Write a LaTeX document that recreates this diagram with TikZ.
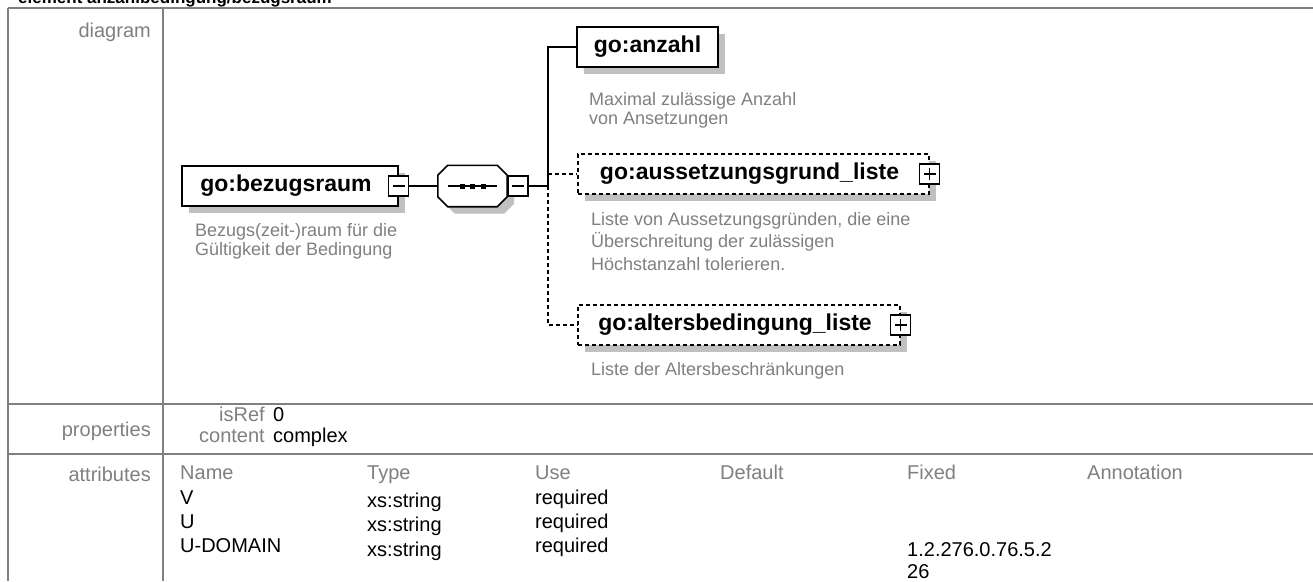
\documentclass[tikz,border=0pt]{standalone}
\usepackage{fontspec}
\setmainfont{Liberation Sans}
\newfontfamily\descfont{Liberation Sans}
\usetikzlibrary{calc,shadows}
\definecolor{linegray}{HTML}{808080}
\definecolor{labelgray}{HTML}{808080}
\definecolor{shadowgray}{HTML}{C0C0C0}
\definecolor{descgray}{HTML}{808080}
\begin{document}
\begin{tikzpicture}[x=1pt,y=-1pt,
  tblline/.style={draw=linegray, line width=2pt},
  lbl/.style={font=\fontsize{20}{24}\selectfont, text=labelgray, inner sep=0pt},
  val/.style={font=\fontsize{20}{24}\selectfont, text=black, inner sep=0pt},
  elbox/.style={draw=black, fill=white, line width=1.6pt, minimum height=40pt, inner sep=0pt,
    font=\fontsize{23}{27}\selectfont\bfseries,
    general shadow={fill=shadowgray, shadow xshift=7pt, shadow yshift=-7pt}},
  optbox/.style={elbox, dash pattern=on 4pt off 3pt},
  ctlbox/.style={draw=black, fill=white, line width=1.3pt, minimum size=20pt, inner sep=0pt},
  minusbox/.style={ctlbox, path picture={\draw[line width=1.3pt] ([xshift=4pt]path picture bounding box.west) -- ([xshift=-4pt]path picture bounding box.east);}},
  plusbox/.style={ctlbox, path picture={
      \draw[line width=1.3pt] ([xshift=4pt]path picture bounding box.west) -- ([xshift=-4pt]path picture bounding box.east);
      \draw[line width=1.3pt] ([yshift=-4pt]path picture bounding box.north) -- ([yshift=4pt]path picture bounding box.south);}},
  conn/.style={draw=black, line width=1.3pt},
  dconn/.style={conn, dash pattern=on 4pt off 3pt},
  desc/.style={font=\descfont\fontsize{18}{22}\selectfont, text=descgray, inner sep=0pt, anchor=base west},
]
\useasboundingbox (0,0) rectangle (1313,581);
\fill[white] (0,0) rectangle (1313,581);

% heading, cut off at the top edge as in the reference
\node[anchor=base west, inner sep=0pt, font=\fontsize{17}{20}\selectfont\bfseries] (title) at (18,3.5) {element anzahlbedingung/bezugsraum};

% table grid
\draw[tblline] (8,8) -- (1313,8);
\draw[tblline] (8,8) -- (8,581);
\draw[tblline] (163,8) -- (163,581);
\draw[tblline] (8,404) -- (1313,404);
\draw[tblline] (8,454) -- (1313,454);

% row labels
\node[lbl, anchor=base east] (lblDiagram) at (151,37) {diagram};
\node[lbl, anchor=base east] (lblProps) at (151,436) {properties};
\node[lbl, anchor=base east] (lblAttrs) at (151,481) {attributes};

% properties
\node[lbl, anchor=base east] (kIsRef) at (265,421) {isRef};
\node[val, anchor=base west] (vIsRef) at (273,421) {0};
\node[lbl, anchor=base east] (kContent) at (265,442) {content};
\node[val, anchor=base west] (vContent) at (273,442) {complex};

% attributes header
\node[lbl, anchor=base west] (hName) at (180,479) {Name};
\node[lbl, anchor=base west] (hType) at (367,479) {Type};
\node[lbl, anchor=base west] (hUse) at (535,479) {Use};
\node[lbl, anchor=base west] (hDefault) at (720,479) {Default};
\node[lbl, anchor=base west] (hFixed) at (907,479) {Fixed};
\node[lbl, anchor=base west] (hAnno) at (1087,479) {Annotation};
% attribute rows
\node[val, anchor=base west] (aV) at (180,504) {V};
\node[val, anchor=base west] (aVt) at (367,507) {xs:string};
\node[val, anchor=base west] (aVu) at (535,504) {required};
\node[val, anchor=base west] (aU) at (180,528) {U};
\node[val, anchor=base west] (aUt) at (367,531) {xs:string};
\node[val, anchor=base west] (aUu) at (535,528) {required};
\node[val, anchor=base west] (aD) at (180,552) {U-DOMAIN};
\node[val, anchor=base west] (aDt) at (367,556) {xs:string};
\node[val, anchor=base west] (aDu) at (535,552) {required};
\node[val, anchor=base west] (aDf1) at (907,556) {1.2.276.0.76.5.2};
\node[val, anchor=base west] (aDf2) at (907,578) {26};

% diagram: element boxes
\node[elbox, minimum width=216pt] (bez) at (290,186) {go:bezugsraum\hspace*{8pt}};
\node[minusbox] (bezMinus) at (bez.east) {};

\node[minimum width=69pt, minimum height=41pt, inner sep=0pt] (seq) at (472.5,186) {};
\path[draw=black, fill=white, line width=1.6pt, general shadow={fill=shadowgray, shadow xshift=7pt, shadow yshift=-7pt}]
  ($(seq.north west)+(10,0)$) -- ($(seq.north east)+(-10,0)$) -- ($(seq.north east)+(0,10)$)
  -- ($(seq.south east)+(0,-10)$) -- ($(seq.south east)+(-10,0)$) -- ($(seq.south west)+(10,0)$)
  -- ($(seq.south west)+(0,-10)$) -- ($(seq.north west)+(0,10)$) -- cycle;
\draw[conn] ($(seq.west)+(10,0)$) -- ($(seq.east)+(-10,0)$);
\fill[black] ($(seq.center)+(-13,-2.5)$) rectangle ($(seq.center)+(-8,2.5)$);
\fill[black] ($(seq.center)+(-2.5,-2.5)$) rectangle ($(seq.center)+(2.5,2.5)$);
\fill[black] ($(seq.center)+(8,-2.5)$) rectangle ($(seq.center)+(13,2.5)$);
\node[minusbox, anchor=west] (seqMinus) at (seq.east) {};

\coordinate (junc) at (548,186);

\node[elbox, minimum width=141pt] (anzahl) at (647.5,47) {go:anzahl};
\node[optbox, minimum width=351pt] (aus) at (753.5,174) {go:aussetzungsgrund\_liste\hspace*{8pt}};
\node[plusbox] (ausPlus) at (aus.east) {};
\node[optbox, minimum width=322pt] (alters) at (739,325) {go:altersbedingung\_liste\hspace*{8pt}};
\node[plusbox] (altersPlus) at (alters.east) {};

% connectors
\draw[conn] (bezMinus.east) -- (seq.west);
\draw[conn] (seqMinus.east) -- (junc);
\draw[conn] (junc) |- (anzahl.west);
\draw[dconn] (junc |- aus.west) -- (aus.west);
\draw[dconn] (junc) |- (alters.west);

% descriptions
\node[desc] (bezD1) at (195,236) {Bezugs(zeit-)raum für die};
\node[desc] (bezD2) at (195,255) {Gültigkeit der Bedingung};
\node[desc] (anzD1) at (589,105) {Maximal zulässige Anzahl};
\node[desc] (anzD2) at (589,124) {von Ansetzungen};
\node[desc] (ausD1) at (591,225) {Liste von Aussetzungsgründen, die eine};
\node[desc] (ausD2) at (591,247) {Überschreitung der zulässigen};
\node[desc] (ausD3) at (591,270) {Höchstanzahl tolerieren.};
\node[desc] (altD1) at (591,375) {Liste der Altersbeschränkungen};
\end{tikzpicture}
\end{document}
